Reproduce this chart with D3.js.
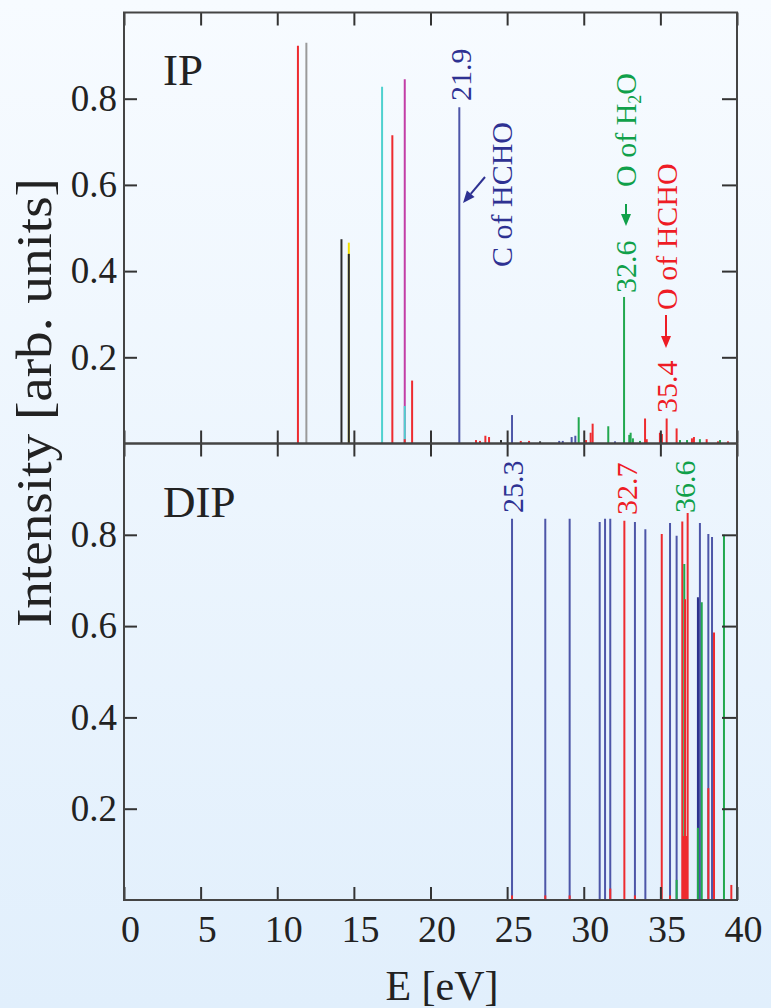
<!DOCTYPE html>
<html>
<head>
<meta charset="utf-8">
<script src="https://cdn.jsdelivr.net/npm/d3@7"></script>
<style>
  body { margin: 0; }
  svg { display: block; }
</style>
</head>
<body>
<div id="chart"></div>
<script>
// IP panel: energy (eV), intensity, colour key
var ipE = [11.35, 11.9, 14.19, 14.67, 14.67, 16.84, 17.51, 18.32, 18.32, 18.32, 18.8, 21.88,
  22.97, 23.23, 23.58, 23.82, 24.6, 25.32, 25.89, 26.43, 27.15, 28.4, 28.63, 29.21, 29.45, 29.67,
  30.15, 30.45, 30.58, 31.6, 32.04, 32.63, 32.97, 33.06, 33.21, 33.67, 34.0, 34.11, 34.97, 35.1,
  35.41, 36.06, 36.28, 36.74, 37.06, 37.19, 37.58, 38.02, 38.76, 38.89, 39.41];
var ipI = [0.923, 0.93, 0.474, 0.466, 0.44, 0.828, 0.715, 0.845, 0.087, 0.01, 0.146, 0.78,
  0.008, 0.006, 0.018, 0.015, 0.008, 0.066, 0.006, 0.006, 0.005, 0.006, 0.006, 0.015, 0.018, 0.061,
  0.008, 0.025, 0.046, 0.04, 0.005, 0.34, 0.02, 0.025, 0.012, 0.006, 0.058, 0.01, 0.025, 0.022,
  0.058, 0.035, 0.008, 0.008, 0.012, 0.015, 0.01, 0.01, 0.005, 0.008, 0.005];
var ipC = ["r", "gr", "k", "y", "k", "c", "r", "m", "c", "r", "r", "b",
  "r", "r", "r", "r", "k", "b", "r", "r", "k", "b", "b", "b", "b", "g",
  "r", "r", "r", "g", "b", "g", "g", "g", "g", "g", "r", "r", "r", "r",
  "r", "r", "g", "g", "r", "r", "g", "r", "r", "g", "r"];

// DIP panel
var dipE = [25.32, 27.49, 29.08, 31.04, 31.39, 31.73, 32.65, 33.34, 34.02, 35.09, 35.63, 36.06, 36.06,
  36.43, 36.56, 36.61, 36.78, 36.47, 36.52, 36.58, 36.66, 36.72,
  37.45, 37.49, 37.58, 37.7, 37.45, 38.13, 38.13, 38.37, 38.5, 39.15, 39.63,
  25.32, 27.49, 29.08, 31.73, 33.34, 35.63];
var dipI = [0.835, 0.835, 0.835, 0.828, 0.835, 0.835, 0.831, 0.828, 0.812, 0.802, 0.826, 0.798, 0.044,
  0.829, 0.736, 0.659, 0.848, 0.14, 0.14, 0.14, 0.14, 0.14,
  0.663, 0.66, 0.826, 0.652, 0.158, 0.802, 0.245, 0.795, 0.586, 0.80, 0.033,
  0.01, 0.01, 0.01, 0.025, 0.01, 0.01];
var dipC = ["b", "b", "b", "b", "b", "b", "r", "b", "b", "r", "b", "b", "g",
  "r", "g", "r", "r", "r", "r", "r", "r", "r",
  "db", "db", "b", "g", "g", "b", "r", "b", "r", "g", "r",
  "r", "r", "r", "r", "r", "r"];

var xTicks = [0, 5, 10, 15, 20, 25, 30, 35, 40];
var yTicks = [0.2, 0.4, 0.6, 0.8];

var col = {r: "#ee2b2f", b: "#4d56a8", db: "#2c318c", g: "#22a84f", k: "#2b2b2b",
  gr: "#9a9a9a", c: "#4fd1cf", m: "#c23ea6", y: "#f4e200"};

var W = 771, H = 1008;
var svg = d3.select("#chart").append("svg").attr("width", W).attr("height", H);

var grad = svg.append("defs").append("linearGradient").attr("id", "bg")
  .attr("x1", 0).attr("y1", 0).attr("x2", 0).attr("y2", 1);
grad.append("stop").attr("offset", "0%").attr("stop-color", "#f7fbff");
grad.append("stop").attr("offset", "100%").attr("stop-color", "#e1effc");
svg.append("rect").attr("width", W).attr("height", H).attr("fill", "url(#bg)");

var x = d3.scaleLinear().domain([0, 40]).range([124, 737]);
var yTop = d3.scaleLinear().domain([0, 1]).range([443.5, 12.5]);
var yBot = d3.scaleLinear().domain([0, 1]).range([900, 443.5]);

var font = "'Liberation Serif', 'Times New Roman', serif";

function sticks(E, I, C, y) {
  svg.append("g").selectAll("line").data(E).enter().append("line")
    .attr("x1", function(d) { return x(d); })
    .attr("x2", function(d) { return x(d); })
    .attr("y1", y(0))
    .attr("y2", function(d, i) { return y(I[i]); })
    .attr("stroke", function(d, i) { return col[C[i]]; })
    .attr("stroke-width", 2);
}
sticks(ipE, ipI, ipC, yTop);
sticks(dipE, dipI, dipC, yBot);

// frames + inward ticks on every side
function frame(y, showX) {
  var top = y.range()[1], bot = y.range()[0];
  var gb = svg.append("g").attr("transform", "translate(0," + bot + ")")
    .call(d3.axisBottom(x).tickValues(xTicks).tickSizeInner(-13).tickSizeOuter(0).tickPadding(15)
      .tickFormat(showX ? d3.format("d") : ""));
  svg.append("g").attr("transform", "translate(0," + top + ")")
    .call(d3.axisTop(x).tickValues(xTicks).tickSizeInner(-13).tickSizeOuter(0).tickFormat(""));
  svg.append("g").attr("transform", "translate(124,0)")
    .call(d3.axisLeft(y).tickValues(yTicks).tickSizeInner(-13).tickSizeOuter(0).tickPadding(7)
      .tickFormat(d3.format(".1f")));
  svg.append("g").attr("transform", "translate(737,0)")
    .call(d3.axisRight(y).tickValues(yTicks).tickSizeInner(-15).tickSizeOuter(0).tickFormat(""));
  svg.append("rect").attr("x", 124).attr("y", top).attr("width", 613).attr("height", bot - top)
    .attr("fill", "none").attr("stroke", "#444").attr("stroke-width", 2);
}
frame(yTop, false);
frame(yBot, true);

svg.selectAll(".domain").remove();
svg.selectAll(".tick line").attr("stroke", "#333").attr("stroke-width", 2);
svg.selectAll(".tick text").attr("font-family", font).attr("font-size", 37).attr("fill", "#222");
svg.selectAll(".tick text").filter(function() { return d3.select(this.parentNode.parentNode).attr("transform") == "translate(0,900)"; })
  .attr("font-size", 38).attr("dx", 6);

// panel names
svg.append("text").attr("x", 163).attr("y", 85).text("IP")
  .attr("font-family", font).attr("font-size", 45).attr("fill", "#222");
svg.append("text").attr("x", 163).attr("y", 517).text("DIP")
  .attr("font-family", font).attr("font-size", 45).attr("fill", "#222");

// axis titles
svg.append("text").attr("transform", "translate(51,402.5) rotate(-90)")
  .attr("text-anchor", "middle").text("Intensity [arb. units]")
  .attr("font-family", font).attr("font-size", 50).attr("fill", "#222")
  .attr("textLength", 449).attr("lengthAdjust", "spacingAndGlyphs");
svg.append("text").attr("x", 442).attr("y", 1000).attr("text-anchor", "middle").text("E [eV]")
  .attr("font-family", font).attr("font-size", 42).attr("fill", "#222");

// annotations (rotated, read bottom to top)
var cBlue = "#2e3192", cGreen = "#10a04a", cRed = "#ee1c25";
function vlabel(bx, by, txt, c) {
  return svg.append("text").attr("transform", "translate(" + bx + "," + by + ") rotate(-90)")
    .attr("font-family", font).attr("font-size", 30).attr("fill", c).text(txt);
}
function arrow(x1, y1, x2, y2, c) {
  var a = Math.atan2(y2 - y1, x2 - x1), L = 12, w = 5;
  var bx = x2 - L * Math.cos(a), by = y2 - L * Math.sin(a);
  svg.append("line").attr("x1", x1).attr("y1", y1).attr("x2", bx).attr("y2", by)
    .attr("stroke", c).attr("stroke-width", 2);
  svg.append("path").attr("fill", c)
    .attr("d", "M" + x2 + "," + y2 +
      "L" + (bx + w * Math.sin(a)) + "," + (by - w * Math.cos(a)) +
      "L" + (bx - w * Math.sin(a)) + "," + (by + w * Math.cos(a)) + "Z");
}

vlabel(471, 101, "21.9", cBlue);
vlabel(512, 267, "C of HCHO", cBlue);
arrow(485, 177, 463, 203, cBlue);

vlabel(636, 293, "32.6", cGreen);
arrow(626, 204, 626, 226, cGreen);
var h2o = vlabel(636, 187, "O of H", cGreen);
h2o.append("tspan").attr("font-size", 18).attr("dy", 5).text("2");
h2o.append("tspan").attr("dy", -5).text("O");

vlabel(677, 413, "35.4", cRed);
arrow(666, 315, 666, 348, cRed);
vlabel(677, 310, "O of HCHO", cRed);

vlabel(523, 513, "25.3", cBlue);
vlabel(637, 515, "32.7", cRed);
vlabel(695, 513, "36.6", cGreen);
</script>
</body>
</html>
